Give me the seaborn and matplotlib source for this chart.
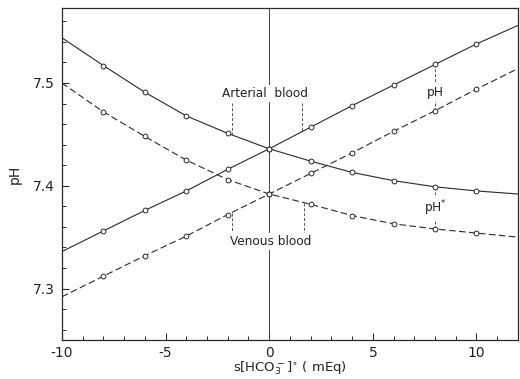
import numpy as np
import pandas as pd
import matplotlib
matplotlib.use("Agg")
import matplotlib.pyplot as plt
import seaborn as sns
from matplotlib.ticker import MultipleLocator

# s[HCO3-]° (mEq) and the four pH curves
x_vals = [-10, -8, -6, -4, -2, 0, 2, 4, 6, 8, 10, 12]
arterial_ph_up = [7.336, 7.356, 7.376, 7.395, 7.416, 7.436, 7.457, 7.478, 7.498, 7.518, 7.538, 7.556]
venous_ph_up = [7.292, 7.312, 7.332, 7.351, 7.372, 7.392, 7.412, 7.432, 7.453, 7.473, 7.494, 7.514]
arterial_ph_down = [7.544, 7.517, 7.491, 7.468, 7.451, 7.436, 7.424, 7.413, 7.405, 7.399, 7.395, 7.392]
venous_ph_down = [7.500, 7.472, 7.448, 7.425, 7.406, 7.392, 7.382, 7.371, 7.363, 7.358, 7.354, 7.350]

x_ticks = [-10, -5, 0, 5, 10]
y_ticks = [7.3, 7.4, 7.5]

sns.set_theme(style="ticks")
plt.rcParams["font.family"] = ["DejaVu Sans"]
plt.rcParams["axes.unicode_minus"] = False

series = {
    "art_up": (arterial_ph_up, "solid"),
    "art_dn": (arterial_ph_down, "solid"),
    "ven_up": (venous_ph_up, "dashed"),
    "ven_dn": (venous_ph_down, "dashed"),
}
frames = []
for name, (vals, style) in series.items():
    frames.append(pd.DataFrame({"x": x_vals, "ph": vals, "curve": name, "style": style}))
df = pd.concat(frames, ignore_index=True)

fig = plt.figure(figsize=(5.2, 3.79), dpi=100)
ax = fig.add_axes([0.119, 0.103, 0.877, 0.876])

ink = "#2a2a2a"

# reference line at zero change
ax.axvline(0, color="#444444", lw=0.7, zorder=1)

for name, (vals, style) in series.items():
    sub = df[df["curve"] == name]
    ls = "-" if style == "solid" else (0, (6, 3))
    sns.lineplot(data=sub, x="x", y="ph", ax=ax, color=ink, lw=0.8,
                 linestyle=ls, zorder=2, legend=False)
    pts = sub[(sub["x"] > -10) & (sub["x"] < 12)]
    sns.scatterplot(data=pts, x="x", y="ph", ax=ax, marker="o", s=12,
                    facecolor="white", edgecolor=ink, linewidth=0.7,
                    zorder=4, legend=False)

leader = dict(color="#555555", lw=0.7, linestyle=(0, (3, 2)), zorder=2)
lbl = dict(ha="center", va="center", fontsize=8.7, color="#222222", zorder=5,
           bbox=dict(boxstyle="square,pad=0.15", fc="white", ec="none"))

xs = np.array(x_vals, dtype=float)

def on_curve(vals, xp):
    return float(np.interp(xp, xs, vals))

# Arterial blood label and leaders
ax.plot([-1.8, -1.8], [7.481, on_curve(arterial_ph_down, -1.8)], **leader)
ax.plot([1.6, 1.6], [7.481, on_curve(arterial_ph_up, 1.6)], **leader)
ax.text(-0.2, 7.490, "Arterial  blood", **lbl)

# Venous blood label and leaders
ax.plot([-1.8, -1.8], [on_curve(venous_ph_up, -1.8), 7.354], **leader)
ax.plot([1.7, 1.7], [on_curve(venous_ph_down, 1.7), 7.352], **leader)
ax.text(0.05, 7.346, "Venous blood", **lbl)

# pH and pH* differences at x = 8
ax.plot([8, 8], [on_curve(arterial_ph_up, 8), on_curve(venous_ph_up, 8)], **leader)
ax.text(8, 7.491, "pH", **lbl)
ax.plot([8, 8], [on_curve(arterial_ph_down, 8), on_curve(venous_ph_down, 8)], **leader)
ax.text(8, 7.378, r"pH$^{*}$", **lbl)

ax.set_xlim(-10, 12)
ax.set_ylim(7.25, 7.573)
ax.set_xticks(x_ticks)
ax.set_yticks(y_ticks)
ax.set_yticklabels([f"{v:.1f}" for v in y_ticks])
ax.xaxis.set_minor_locator(MultipleLocator(1))
ax.yaxis.set_minor_locator(MultipleLocator(0.02))
ax.tick_params(which="major", direction="in", length=5, width=0.8, color=ink,
               labelsize=10, labelcolor="#222222")
ax.tick_params(axis="x", which="major", pad=4)
ax.tick_params(axis="y", which="major", pad=5)
ax.tick_params(which="minor", direction="in", length=3, width=0.7, color=ink)

for sp in ax.spines.values():
    sp.set_visible(True)
    sp.set_color(ink)
    sp.set_linewidth(0.9)

ax.set_xlabel(r"s[HCO$_3^-$]$^{\circ}$ ( mEq)", fontsize=9.5, color="#222222", labelpad=0)
ax.set_ylabel("pH", fontsize=10, color="#222222", labelpad=8)

fig.savefig("out.png", dpi=100, facecolor="white")
